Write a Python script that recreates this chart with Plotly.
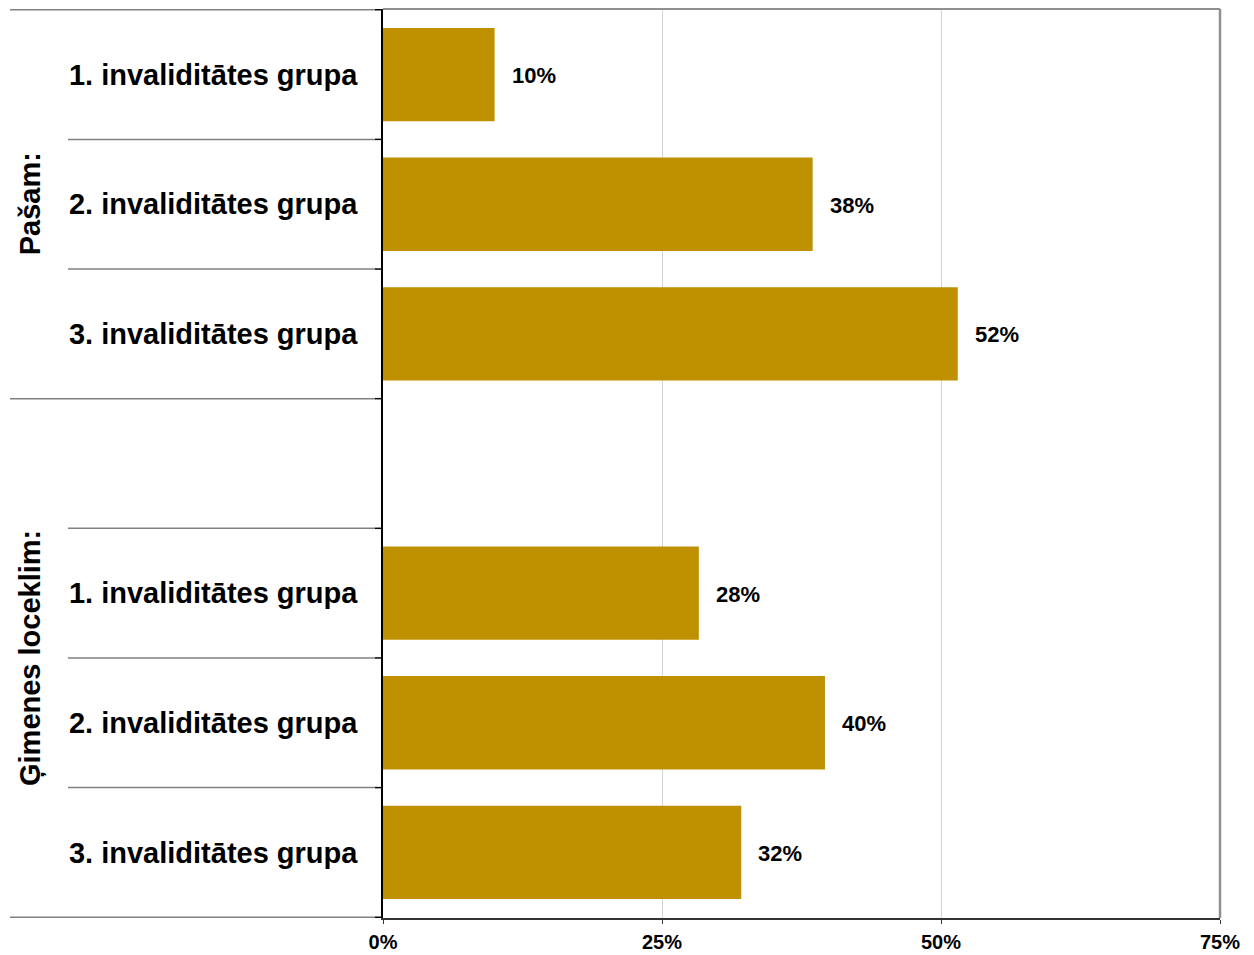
import plotly.graph_objects as go

groups = ["Pašam:", "Ģimenes loceklim:"]
labels = ["1. invaliditātes grupa", "2. invaliditātes grupa", "3. invaliditātes grupa"]
pasam = [10.0, 38.5, 51.5]
gimenes = [28.3, 39.6, 32.1]
x_ticks = [0, 25, 50, 75]
x_ticktext = ["0%", "25%", "50%", "75%"]

BAR = "#BF9000"
FONT = "Liberation Sans, Arial, sans-serif"

keys, texts, values = [], [], []
for gi, (g, vals) in enumerate(zip(groups, [pasam, gimenes])):
    if gi > 0:
        keys.append("gap")
        texts.append("")
        values.append(None)
    for lab, v in zip(labels, vals):
        keys.append(f"{g}|{lab}")
        texts.append(lab)
        values.append(v)

bar_keys = [k for k, v in zip(keys, values) if v is not None]
bar_vals = [v for v in values if v is not None]

fig = go.Figure()
fig.add_trace(go.Bar(
    x=bar_vals, y=bar_keys, orientation="h",
    marker=dict(color=BAR, line=dict(width=0)),
    hoverinfo="skip",
))

annotations = []
for k, v in zip(bar_keys, bar_vals):
    annotations.append(dict(
        x=v, y=k, xref="x", yref="y", text=f"{round(v)}%", showarrow=False,
        xanchor="left", xshift=15, yshift=-1,
        font=dict(family=FONT, size=22, color="black", weight="bold"),
    ))

# group labels (rotated)
n = len(keys)
group_centers = [1, (2.5 + (n - 0.5)) / 2]
for g, c in zip(groups, group_centers):
    annotations.append(dict(
        x=-0.4217, y=c, xref="paper", yref="y", text=g, showarrow=False, textangle=-90,
        xanchor="center", yanchor="middle",
        font=dict(family=FONT, size=29, color="black", weight="bold"),
    ))

shapes = []
PX = 1 / 837.0
# separator lines at category boundaries
for i in range(n + 1):
    yb = i - 0.5
    is_group_edge = (i == 0) or (i == n) or (i < n and keys[i] == "gap")
    x0 = (10 - 383) * PX if is_group_edge else (68 - 383) * PX
    shapes.append(dict(type="line", xref="paper", yref="y", x0=x0, x1=-8 * PX, y0=yb, y1=yb,
                       line=dict(color="#808080", width=1.5)))
    shapes.append(dict(type="line", xref="paper", yref="y", x0=-8 * PX, x1=0, y0=yb, y1=yb,
                       line=dict(color="black", width=1.5)))
# plot frame top/right
shapes.append(dict(type="line", xref="paper", yref="paper", x0=0, x1=1, y0=1, y1=1,
                   line=dict(color="#909090", width=2)))
shapes.append(dict(type="line", xref="paper", yref="paper", x0=1, x1=1, y0=0, y1=1,
                   line=dict(color="#909090", width=2.5)))

fig.update_layout(
    width=1254, height=955,
    margin=dict(l=383, r=34, t=9, b=37),
    paper_bgcolor="white", plot_bgcolor="white",
    showlegend=False,
    bargap=0.28,
    annotations=annotations,
    shapes=shapes,
    xaxis=dict(
        range=[0, 75], tickvals=x_ticks, ticktext=x_ticktext,
        tickfont=dict(family=FONT, size=20, color="black", weight="bold"),
        showgrid=True, gridcolor="#D4D4D4", gridwidth=1,
        showline=True, linecolor="#333333", linewidth=2,
        ticks="outside", ticklen=4, tickcolor="#333333",
        ticklabelstandoff=1, automargin=False,
        zeroline=False, fixedrange=True,
    ),
    yaxis=dict(
        type="category", categoryorder="array", categoryarray=keys,
        tickvals=keys, ticktext=texts,
        autorange="reversed", automargin=False,
        tickfont=dict(family=FONT, size=29, color="black", weight="bold"),
        showline=True, linecolor="black", linewidth=1.5,
        ticks="", showgrid=False, zeroline=False,
        ticklabelstandoff=18,
    ),
)

fig.write_html("out.html", config={"displayModeBar": False},
               post_script="document.body.style.margin='0';document.body.style.overflow='hidden';")
